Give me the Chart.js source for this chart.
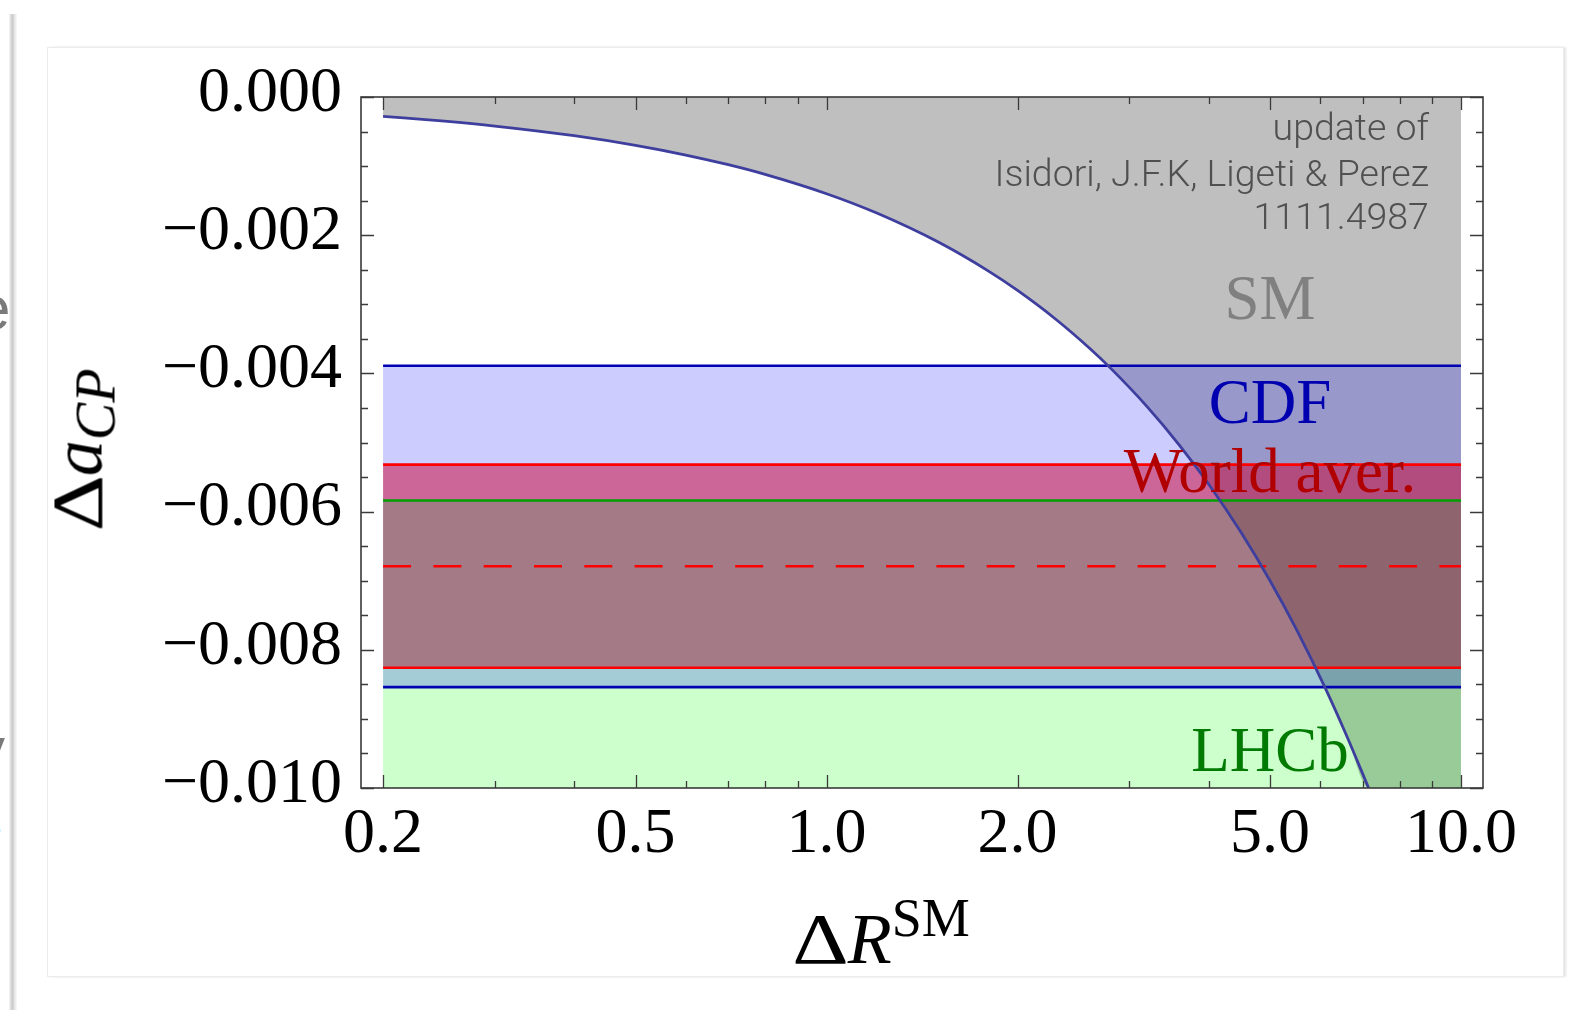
<!DOCTYPE html>
<html>
<head>
<meta charset="utf-8">
<script src="https://cdn.jsdelivr.net/npm/chart.js@4/dist/chart.umd.min.js"></script>
<style>
  html, body { margin:0; padding:0; background:#fff; width:1578px; height:1010px; overflow:hidden; }
  .shadow { position:absolute; left:9px; top:14px; width:8px; height:996px;
            background:linear-gradient(to right,#f4f4f4,#c9c9c9 45%,#e6e6e6 70%,#fafafa); }
  .box { position:absolute; left:47px; top:47px; width:1515px; height:928px; border:1px solid #ececec;
         box-shadow: 2px 0 2px #e4e4e4; background:#fff; }
  #c { position:absolute; left:0; top:0; }
  .ser { font-family:'Liberation Serif','DejaVu Serif',serif; color:#000; white-space:nowrap; position:absolute; line-height:72px; }
  .edge { position:absolute; font-family:'Liberation Sans',sans-serif; color:#7a7a7a; white-space:nowrap; }
  .wd { display:inline-block; transform:scaleX(1.22); transform-origin:left center; margin-right:9px; }
</style>
</head>
<body>
<div class="shadow"></div>
<div class="edge" style="left:-24px; top:272px; font-size:62px;">e</div>
<div class="edge" style="left:-26px; top:713px; font-size:62px;">y</div>
<div class="edge" style="left:-14px; top:808px; font-size:30px; color:#333;">s</div>
<div class="box"></div>
<canvas id="c" width="1578" height="1010"></canvas>
<div class="ser" id="ytitle" style="left:80px; top:450px; font-size:72px; transform:translate(-50%,-50%) rotate(-90deg);"><span class="wd">Δ</span><i>a</i><i style="font-size:56px; position:relative; top:13px;">CP</i></div>
<div class="ser" id="xtitle" style="left:881px; top:903px; font-size:72px; transform:translateX(-50%);"><span class="wd">Δ</span><i>R</i><span style="font-size:54px; position:relative; top:-27px;">SM</span></div>
<script>
// ---------------- data ----------------
const curveX = [0.2, 0.25, 0.3, 0.4, 0.5, 0.6, 0.7, 0.8, 1.0, 1.2, 1.5, 1.8, 2.0, 2.3, 2.6, 2.8, 3.2, 3.6, 4.0, 4.5, 5.0, 5.5, 6.1, 6.6, 7.15];
const curveY = [-0.00028, -0.00035, -0.00042, -0.00056, -0.00070, -0.00084, -0.00098, -0.00112, -0.00140, -0.00168, -0.00210, -0.00252, -0.00280, -0.00322, -0.00364, -0.00392, -0.00448, -0.00504, -0.00560, -0.00630, -0.00700, -0.00770, -0.00854, -0.00924, -0.01000];
const smRegionEnd = [10.0, -0.010];          // SM region reaches the bottom edge at the right
const xRange = [0.2, 10.0];
const cdfBand = [-0.00854, -0.00389];       // [lower, upper]
const worldBand = [-0.00826, -0.00532];
const worldCentral = -0.00679;
const lhcbBand = [-0.01057, -0.00584];
const xTickValues = [0.2, 0.5, 1.0, 2.0, 5.0, 10.0];
const xTickLabels = ['0.2', '0.5', '1.0', '2.0', '5.0', '10.0'];
const xMinorTicks = [0.3, 0.4, 0.6, 0.7, 0.8, 0.9, 3, 4, 6, 7, 8, 9];
const yTickValues = [0, -0.002, -0.004, -0.006, -0.008, -0.010];
const yTickLabels = ['0.000', '\u22120.002', '\u22120.004', '\u22120.006', '\u22120.008', '\u22120.010'];
const yMinorTicks = [-0.0005, -0.001, -0.0015, -0.0025, -0.003, -0.0035, -0.0045, -0.005, -0.0055, -0.0065, -0.007, -0.0075, -0.0085, -0.009, -0.0095];
const bandLabels = ['SM', 'CDF', 'World aver.', 'LHCb'];
const bandLabelY = [-0.00298, -0.00448, -0.00548, -0.00951];
const bandLabelX = 5.0;
const creditLines = ['update of', 'Isidori, J.F.K, Ligeti & Perez', '1111.4987'];
const creditY = [-0.00049, -0.00115, -0.00177];
const creditX = 8.9;

// ---------------- build ----------------
const hline = v => [{x: xRange[0], y: v}, {x: xRange[1], y: v}];
const curvePts = curveX.map((x, i) => ({x, y: curveY[i]}));
const smPts = curvePts.concat([{x: smRegionEnd[0], y: smRegionEnd[1]}]);

const base = {pointRadius: 0, pointHoverRadius: 0, tension: 0, borderCapStyle: 'butt'};
const datasets = [
  Object.assign({}, base, {label:'SM region', data: smPts, borderWidth: 0, borderColor:'rgba(0,0,0,0)', backgroundColor: 'rgb(191,191,191)', fill: {value: 0}, cubicInterpolationMode: 'monotone', order: 100}),
  Object.assign({}, base, {label:'World band', data: hline(worldBand[1]), borderWidth: 0, borderColor:'rgba(0,0,0,0)', backgroundColor: 'rgba(255,0,0,0.5)', fill: {value: worldBand[0]}, order: 90}),
  Object.assign({}, base, {label:'LHCb band', data: hline(lhcbBand[1]), borderWidth: 0, borderColor:'rgba(0,0,0,0)', backgroundColor: 'rgba(0,255,0,0.2)', fill: {value: lhcbBand[0]}, order: 80}),
  Object.assign({}, base, {label:'CDF band', data: hline(cdfBand[1]), borderWidth: 0, borderColor:'rgba(0,0,0,0)', backgroundColor: 'rgba(0,0,255,0.2)', fill: {value: cdfBand[0]}, order: 70}),
  Object.assign({}, base, {label:'LHCb upper', data: hline(lhcbBand[1]), borderWidth: 2.6, borderColor: 'rgb(0,160,0)', fill: false, order: 40}),
  Object.assign({}, base, {label:'World upper', data: hline(worldBand[1]), borderWidth: 2.6, borderColor: 'rgb(255,0,0)', fill: false, order: 30}),
  Object.assign({}, base, {label:'World lower', data: hline(worldBand[0]), borderWidth: 2.6, borderColor: 'rgb(255,0,0)', fill: false, order: 30}),
  Object.assign({}, base, {label:'World central', data: hline(worldCentral), borderWidth: 2.6, borderColor: 'rgb(255,0,0)', borderDash: [28, 22.3], fill: false, order: 30}),
  Object.assign({}, base, {label:'CDF upper', data: hline(cdfBand[1]), borderWidth: 2.6, borderColor: 'rgb(0,0,176)', fill: false, order: 20}),
  Object.assign({}, base, {label:'CDF lower', data: hline(cdfBand[0]), borderWidth: 2.6, borderColor: 'rgb(0,0,176)', fill: false, order: 20}),
  Object.assign({}, base, {label:'SM bound', data: curvePts, borderWidth: 2.8, borderColor: 'rgb(62,62,158)', fill: false, cubicInterpolationMode: 'monotone', order: 0})
];

const framePlugin = {
  id: 'frame',
  afterDatasetsDraw(chart) {
    const {ctx, chartArea: a, scales: {x, y}} = chart;
    ctx.save();
    ctx.strokeStyle = '#3a3a3a';
    ctx.lineWidth = 1.6;
    ctx.strokeRect(a.left, a.top, a.right - a.left, a.bottom - a.top);
    const major = 13, minor = 7;
    ctx.beginPath();
    const xt = (v, len) => { const p = Math.round(x.getPixelForValue(v)) + 0.5;
      ctx.moveTo(p, a.bottom); ctx.lineTo(p, a.bottom - len);
      ctx.moveTo(p, a.top); ctx.lineTo(p, a.top + len); };
    const yt = (v, len) => { const p = Math.round(y.getPixelForValue(v)) + 0.5;
      ctx.moveTo(a.left, p); ctx.lineTo(a.left + len, p);
      ctx.moveTo(a.right, p); ctx.lineTo(a.right - len, p); };
    xTickValues.forEach(v => xt(v, major));
    xMinorTicks.forEach(v => xt(v, minor));
    yTickValues.forEach(v => yt(v, major));
    yMinorTicks.forEach(v => yt(v, minor));
    ctx.lineWidth = 1.3;
    ctx.stroke();
    ctx.restore();
  }
};

const textPlugin = {
  id: 'texts',
  afterDraw(chart) {
    const {ctx, scales: {x, y}} = chart;
    ctx.save();
    ctx.textBaseline = 'middle';
    const styles = [
      {color: 'rgb(128,128,128)', font: '63px "Liberation Serif"'},
      {color: 'rgb(0,0,176)', font: '63px "Liberation Serif"'},
      {color: 'rgb(176,0,0)', font: '63px "Liberation Serif"'},
      {color: 'rgb(0,122,0)', font: '63px "Liberation Serif"'}
    ];
    ctx.textAlign = 'center';
    bandLabels.forEach((t, i) => {
      ctx.fillStyle = styles[i].color; ctx.font = styles[i].font;
      ctx.fillText(t, x.getPixelForValue(bandLabelX), y.getPixelForValue(bandLabelY[i]));
    });
    ctx.textAlign = 'right';
    ctx.fillStyle = 'rgb(80,80,80)';
    ctx.font = '300 37.5px Roboto, "Liberation Sans", sans-serif';
    creditLines.forEach((t, i) => {
      ctx.fillText(t, x.getPixelForValue(creditX), y.getPixelForValue(creditY[i]));
    });
    ctx.restore();
  }
};

const tickFont = {family: '"Liberation Serif", serif', size: 64};
new Chart(document.getElementById('c'), {
  type: 'line',
  data: {datasets},
  options: {
    responsive: false,
    animation: false,
    events: [],
    layout: {padding: {top: 97, right: 95, left: 0, bottom: 0}},
    plugins: {legend: {display: false}, tooltip: {enabled: false}},
    scales: {
      x: {
        type: 'logarithmic', min: 0.1846, max: 10.83,
        grid: {display: false, drawTicks: false}, border: {display: false},
        afterBuildTicks: s => { s.ticks = xTickValues.map(v => ({value: v})); },
        afterFit: s => { s.height = 222; },
        ticks: {autoSkip: false, maxRotation: 0, minRotation: 0, padding: 9, color: '#000', font: tickFont,
                callback: (v, i) => xTickLabels[i]}
      },
      y: {
        type: 'linear', min: -0.010, max: 0,
        grid: {display: false, drawTicks: false}, border: {display: false},
        afterBuildTicks: s => { s.ticks = yTickValues.map(v => ({value: v})); },
        afterFit: s => { s.width = 361; },
        ticks: {autoSkip: false, padding: 19, labelOffset: -3, color: '#000', font: tickFont,
                callback: (v, i) => yTickLabels[i]}
      }
    }
  },
  plugins: [framePlugin, textPlugin]
});
</script>
</body>
</html>
